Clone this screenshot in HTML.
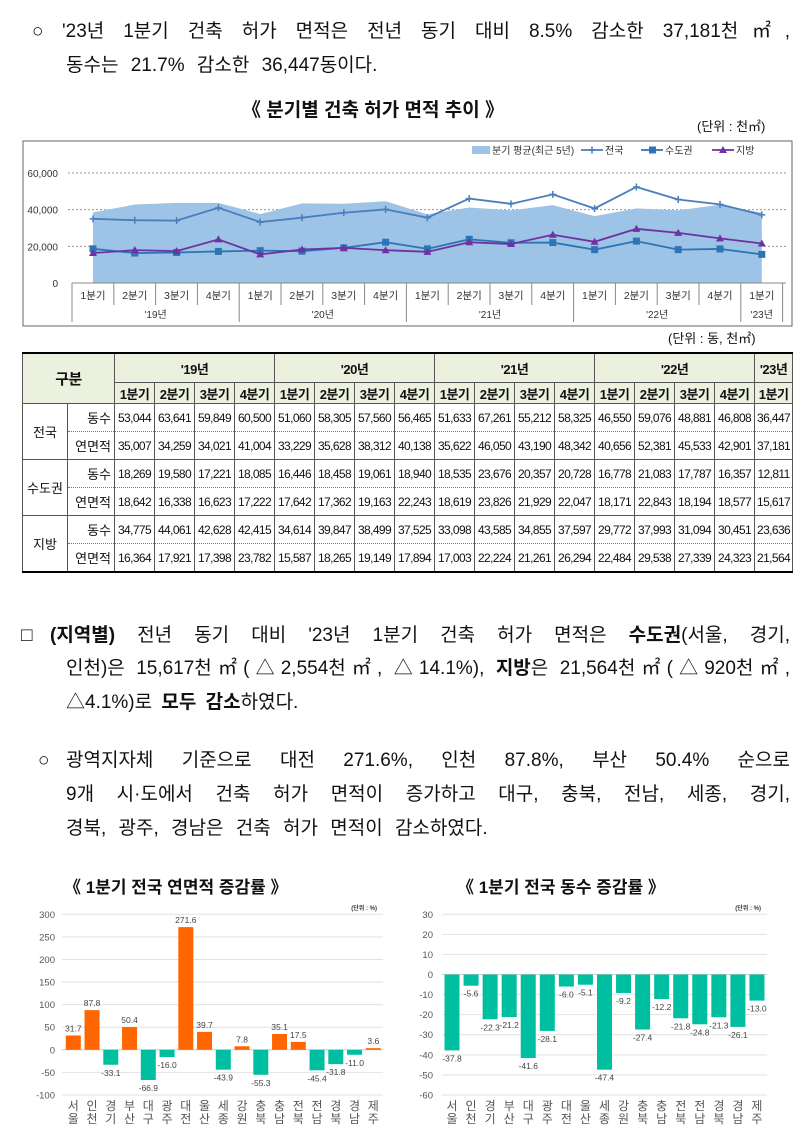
<!DOCTYPE html>
<html><head><meta charset="utf-8">
<style>
body{margin:0;width:804px;height:1145px;background:#fff;position:relative;overflow:hidden;font-family:"Liberation Sans","Noto Sans CJK KR",sans-serif;color:#111}
.ln{position:absolute;font-size:19px;white-space:nowrap;font-family:"Liberation Sans","Noto Sans CJK KR",sans-serif;line-height:24px}
.j{text-align:justify;text-align-last:justify;white-space:normal;overflow:hidden;height:26px}
.ttl{position:absolute;font-weight:bold;font-size:18px;white-space:nowrap;font-family:"Liberation Sans","Noto Sans CJK KR",sans-serif}
.unit{position:absolute;font-size:13px;white-space:nowrap;font-family:"Liberation Sans","Noto Sans CJK KR",sans-serif}
table{position:absolute;left:22px;top:352px;border-collapse:collapse;table-layout:fixed;width:770px;border-top:2px solid #000;border-bottom:2px solid #000;font-family:"Liberation Sans","Noto Sans CJK KR",sans-serif}
td,th{border:1px solid #555;padding:0;text-align:center;font-size:12px;letter-spacing:-0.6px;overflow:hidden;white-space:nowrap}
th{background:#ebf1de;font-weight:bold;font-size:13px;letter-spacing:-0.5px}
tr.h1 th{height:28px}tr.h2 th{height:20px}
tr.d td{height:27px}
tr.a td{border-bottom:1px dotted #777}
tr.b td{border-top:1px dotted #777}
td.rg,td.sb{font-size:13px;letter-spacing:0}
</style></head><body>

<div class="ln" style="left:32px;top:20px">○</div>
<div class="ln j" style="left:62px;top:20px;width:728px">'23년 1분기 건축 허가 면적은 전년 동기 대비 8.5% 감소한 37,181천㎡,</div>
<div class="ln" style="left:66px;top:54px;word-spacing:7px">동수는 21.7% 감소한 36,447동이다.</div>

<div class="ttl" style="left:242px;top:95px;font-size:19px">《 분기별 건축 허가 면적 추이 》</div>
<div class="unit" style="left:697px;top:116px">(단위 : 천㎡)</div>

<svg style="position:absolute;left:0;top:0" width="804" height="345" id="topchart">
<rect x="23" y="141" width="769" height="185" fill="#fff" stroke="#666" stroke-width="1"/>
</svg>
<div class="unit" style="left:668px;top:328px">(단위 : 동, 천㎡)</div>

<table>
<colgroup><col style="width:45px"><col style="width:47px"><col span="16" style="width:40px"><col style="width:38px"></colgroup>
<tr class="h1"><th colspan="2" rowspan="2" style="font-size:15px">구분</th><th colspan="4">'19년</th><th colspan="4">'20년</th><th colspan="4">'21년</th><th colspan="4">'22년</th><th>'23년</th></tr>
<tr class="h2" id="qrow"></tr>
<tbody id="tb"></tbody>
</table>

<div class="ln" style="left:21px;top:624px">□</div>
<div class="ln j" style="left:50px;top:624px;width:740px"><b>(지역별)</b> 전년 동기 대비 '23년 1분기 건축 허가 면적은 <b>수도권</b>(서울, 경기,</div>
<div class="ln j" style="left:66px;top:657px;width:724px">인천)은 15,617천㎡(△2,554천㎡, △14.1%), <b>지방</b>은 21,564천㎡(△920천㎡,</div>
<div class="ln" style="left:66px;top:691px;word-spacing:4px">△4.1%)로 <b>모두 감소</b>하였다.</div>

<div class="ln" style="left:38px;top:749px">○</div>
<div class="ln j" style="left:66px;top:749px;width:724px">광역지자체 기준으로 대전 271.6%, 인천 87.8%, 부산 50.4% 순으로</div>
<div class="ln j" style="left:66px;top:783px;width:724px">9개 시·도에서 건축 허가 면적이 증가하고 대구, 충북, 전남, 세종, 경기,</div>
<div class="ln" style="left:66px;top:817px;word-spacing:7px">경북, 광주, 경남은 건축 허가 면적이 감소하였다.</div>

<div class="ttl" style="left:64px;top:873px;font-size:17px">《 1분기 전국 연면적 증감률 》</div>
<div class="ttl" style="left:457px;top:873px;font-size:17px">《 1분기 전국 동수 증감률 》</div>

<svg style="position:absolute;left:0;top:0" width="804" height="1145" id="bot"></svg>

<script>
// ---- top chart data ----
const quarters=['1분기','2분기','3분기','4분기','1분기','2분기','3분기','4분기','1분기','2분기','3분기','4분기','1분기','2분기','3분기','4분기','1분기'];
const years=["'19년","'20년","'21년","'22년","'23년"];
const avg5=[38500,42800,43700,43700,37600,43400,43200,44600,37400,41200,39600,42500,36500,40700,39600,42700,38300];
const natArea=[35007,34259,34021,41004,33229,35628,38312,40138,35622,46050,43190,48342,40656,52381,45533,42901,37181];
const capArea=[18642,16338,16623,17222,17642,17362,19163,22243,18619,23826,21929,22047,18171,22843,18194,18577,15617];
const locArea=[16364,17921,17398,23782,15587,18265,19149,17894,17003,22224,21261,26294,22484,29538,27339,24323,21564];
const natCnt=[53044,63641,59849,60500,51060,58305,57560,56465,51633,67261,55212,58325,46550,59076,48881,46808,36447];
const capCnt=[18269,19580,17221,18085,16446,18458,19061,18940,18535,23676,20357,20728,16778,21083,17787,16357,12811];
const locCnt=[34775,44061,42628,42415,34614,39847,38499,37525,33098,43585,34855,37597,29772,37993,31094,30451,23636];
const yTicks=[0,20000,40000,60000];
// ---- bottom charts data ----
const regions=['서울','인천','경기','부산','대구','광주','대전','울산','세종','강원','충북','충남','전북','전남','경북','경남','제주'];
const areaRate=[31.7,87.8,-33.1,50.4,-66.9,-16.0,271.6,39.7,-43.9,7.8,-55.3,35.1,17.5,-45.4,-31.8,-11.0,3.6];
const cntRate=[-37.8,-5.6,-22.3,-21.2,-41.6,-28.1,-6.0,-5.1,-47.4,-9.2,-27.4,-12.2,-21.8,-24.8,-21.3,-26.1,-13.0];
const areaTicks=[300,250,200,150,100,50,0,-50,-100];
const cntTicks=[30,20,10,0,-10,-20,-30,-40,-50,-60];

const NS='http://www.w3.org/2000/svg';
function mk(p,t,a){const e=document.createElementNS(NS,t);for(const k in a)e.setAttribute(k,a[k]);p.appendChild(e);return e;}
const fmt=n=>n.toLocaleString('en-US');

// top chart
const topSvg=document.getElementById('topchart');
const ty=v=>283-v*110/60000;
const tx=i=>93+41.8*i;
yTicks.forEach(v=>{
  if(v>0){const g=mk(topSvg,'line',{x1:68,x2:786,y1:ty(v),y2:ty(v),stroke:'#999','stroke-dasharray':'2,2'});
  
  }
  const t=mk(topSvg,'text',{x:58,y:ty(v)+4,'text-anchor':'end','font-size':10,fill:'#333'});
  
  
  t.textContent=fmt(v);
});
let ap='M'+tx(0)+','+ty(0);
avg5.forEach((v,i)=>ap+=' L'+tx(i)+','+ty(v));
ap+=' L'+tx(avg5.length-1)+','+ty(0)+'Z';
const area=mk(topSvg,'path',{d:ap,fill:'#9dc3e6'});


const ax=mk(topSvg,'line',{x1:72,x2:786,y1:283,y2:283,stroke:'#888'});


mk(topSvg,'line',{x1:72,x2:72,y1:283,y2:322,stroke:'#888'});
quarters.forEach((q,i)=>{
  const xr=72+41.8*(i+1);
  const yearEnd=(i%4==3)||i==16;
  mk(topSvg,'line',{x1:xr,x2:xr,y1:283,y2:yearEnd?322:305,stroke:'#888'});
  const t=mk(topSvg,'text',{x:tx(i),y:299,'text-anchor':'middle','font-size':10.5,fill:'#333'});
  
  
  t.textContent=q;
});
years.forEach((y,k)=>{
  const c=k<4?72+41.8*(4*k+2):tx(16);
  const t=mk(topSvg,'text',{x:c,y:318,'text-anchor':'middle','font-size':10,fill:'#333'});
  
  
  t.textContent=y;
});
function series(arr,col,marker,name){
  const pl=mk(topSvg,'polyline',{points:arr.map((v,i)=>tx(i)+','+ty(v)).join(' '),fill:'none',stroke:col,'stroke-width':1.8});
  
  
  arr.forEach((v,i)=>{const x=tx(i),y=ty(v);let m;
    if(marker=='sq')m=mk(topSvg,'rect',{x:x-3.5,y:y-3.5,width:7,height:7,fill:col});
    else if(marker=='tri')m=mk(topSvg,'path',{d:`M${x},${y-4}L${x+4},${y+3}L${x-4},${y+3}Z`,fill:col});
    else m=mk(topSvg,'path',{d:`M${x-3.5},${y}H${x+3.5}M${x},${y-3.5}V${y+3.5}`,stroke:col,'stroke-width':1.5});
    
    });
}
series(natArea,'#4a7ebb','plus','national');
series(capArea,'#2e75b6','sq','capital');
series(locArea,'#7030a0','tri','local');
// legend
const lg=[['area','분기 평균(최근 5년)',472,'#9dc3e6'],['plus','전국',581,'#4a7ebb'],['sq','수도권',641,'#2e75b6'],['tri','지방',712,'#7030a0']];
lg.forEach(([k,l,x,c])=>{
  const y=150;
  if(k=='area'){const r=mk(topSvg,'rect',{x:x,y:y-4,width:18,height:8,fill:c});
    
    }
  else{mk(topSvg,'line',{x1:x,x2:x+22,y1:y,y2:y,stroke:c,'stroke-width':1.8});
    if(k=='sq')mk(topSvg,'rect',{x:x+8,y:y-3.5,width:7,height:7,fill:c});
    if(k=='tri')mk(topSvg,'path',{d:`M${x+11},${y-4}L${x+15},${y+3}L${x+7},${y+3}Z`,fill:c});
    if(k=='plus')mk(topSvg,'path',{d:`M${x+7.5},${y}H${x+14.5}M${x+11},${y-3.5}V${y+3.5}`,stroke:c,'stroke-width':1.5});}
  const t=mk(topSvg,'text',{x:x+(k=='area'?20:24),y:y+4,'font-size':10,fill:'#333'});
  
  
  t.textContent=l;
});

// table
const qrow=document.getElementById('qrow');
quarters.forEach(q=>{const th=document.createElement('th');th.textContent=q;
  
  
  qrow.appendChild(th);});
const tb=document.getElementById('tb');
[['전국',natCnt,natArea],['수도권',capCnt,capArea],['지방',locCnt,locArea]].forEach(([r,c,a])=>{
  [['동수',c,'a'],['연면적',a,'b']].forEach(([s,arr,cls],j)=>{
    const tr=document.createElement('tr');tr.className='d '+cls;
    if(j==0){const td=document.createElement('td');td.rowSpan=2;td.className='rg';td.textContent=r;
      
      
      td.style.borderBottom='1px solid #555';tr.appendChild(td);}
    const sb=document.createElement('td');sb.className='sb';sb.textContent=s;sb.style.textAlign='right';sb.style.paddingRight='3px';
    
    
    tr.appendChild(sb);
    arr.forEach(v=>{const td=document.createElement('td');td.textContent=fmt(v);
      
      
      tr.appendChild(td);});
    tb.appendChild(tr);
  });
});

// bottom charts
const bot=document.getElementById('bot');
function bar(o){
  const y=v=>o.y0-v*o.k;
  const u=mk(bot,'text',{x:o.gx2-6,y:910,'font-size':6,'font-weight':'bold',fill:'#333','text-anchor':'end'});
  
  
  u.textContent='(단위 : %)';
  o.ticks.forEach(v=>{
    const g=mk(bot,'line',{x1:o.gx1,x2:o.gx2,y1:y(v),y2:y(v),stroke:v==0?'#ccc':'#e2e2e2'});
    
    
    const t=mk(bot,'text',{x:o.lx,y:y(v)+3.5,'text-anchor':'end','font-size':9.5,fill:'#555'});
    
    
    t.textContent=v;
  });
  o.vals.forEach((v,i)=>{
    const cx=o.x0+o.sp*i;
    const r=mk(bot,'rect',{x:cx-7.5,y:Math.min(y(v),y(0)),width:15,height:Math.abs(y(v)-y(0)),fill:v>=0?'#ff6600':'#00bfa0'});
    
    
    const t=mk(bot,'text',{x:cx,y:v>=0?y(v)-4:y(v)+11,'text-anchor':'middle','font-size':8.5,fill:'#444'});
    
    
    t.textContent=v.toFixed(1);
    [0,1].forEach(k=>{const c=mk(bot,'text',{x:cx,y:1110+k*13,'text-anchor':'middle','font-size':12,fill:'#555'});
      
      
      c.textContent=regions[i][k];});
  });
}
bar({vals:areaRate,ticks:areaTicks,y0:1049.8,k:0.4517,gx1:62,gx2:383,lx:55,x0:73.3,sp:18.75});
bar({vals:cntRate,ticks:cntTicks,y0:974.5,k:2.008,gx1:442,gx2:767,lx:433,x0:452,sp:19.06});
</script>
</body></html>
